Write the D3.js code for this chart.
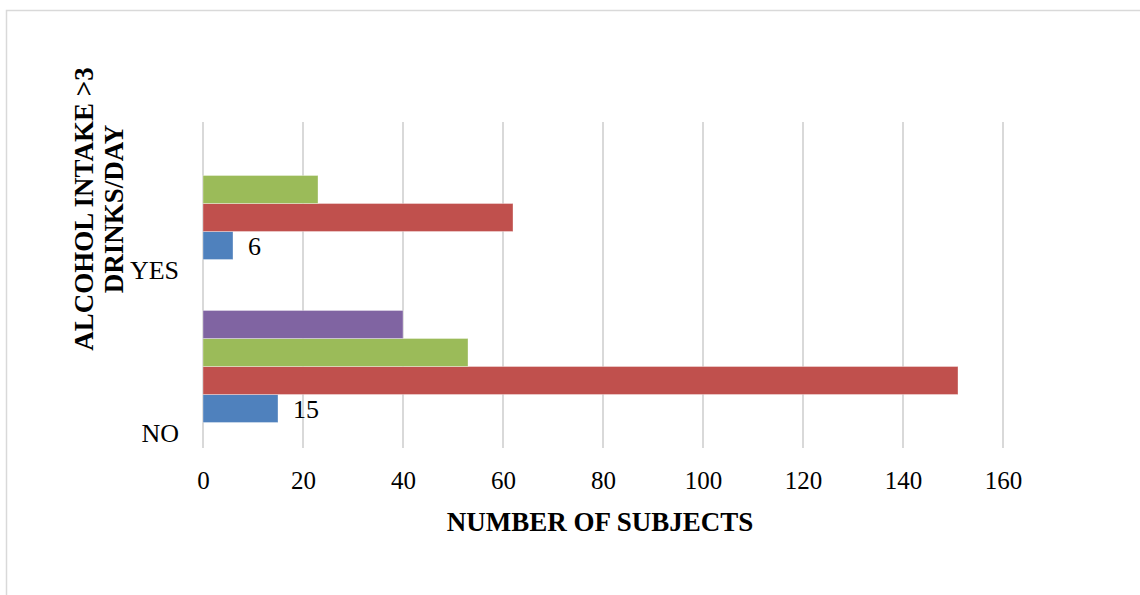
<!DOCTYPE html>
<html>
<head>
<meta charset="utf-8">
<script src="https://cdn.jsdelivr.net/npm/d3@7"></script>
<style>
  html, body { margin: 0; padding: 0; background: #fff; }
  svg { display: block; font-family: "Liberation Serif", "Times New Roman", serif; }
</style>
</head>
<body>
<svg id="chart" width="1140" height="595"></svg>
<script>
// ---- data ----
const categories = ["YES", "NO"];
const seriesNames = ["Series 1", "Series 2", "Series 3", "Series 4"];
const seriesColors = ["#4f81bd", "#c0504d", "#9bbb59", "#8064a2"];
const series1 = [6, 15];
const series2 = [62, 151];
const series3 = [23, 53];
const series4 = [0, 40];
const seriesValues = [series1, series2, series3, series4];
const labelledSeries = [true, false, false, false];
const xTicks = [0, 20, 40, 60, 80, 100, 120, 140, 160];
const yTitleLines = ["ALCOHOL INTAKE >3", "DRINKS/DAY"];
const xTitle = "NUMBER OF SUBJECTS";

// ---- layout ----
const svg = d3.select("#chart");
const plot = { left: 203, right: 1003, top: 122, bottom: 448 };

svg.append("rect")
  .attr("x", 6.5).attr("y", 10.5)
  .attr("width", 1140).attr("height", 600)
  .attr("fill", "none").attr("stroke", "#d9d9d9").attr("stroke-width", 1.5);

const x = d3.scaleLinear().domain([0, 160]).range([plot.left, plot.right]);
const y0 = d3.scaleBand().domain(categories).range([plot.top, plot.bottom]).padding(0);
// top-to-bottom order within a band: last series on top
const y1 = d3.scaleBand().domain(seriesNames.slice().reverse())
  .range([0, y0.bandwidth()]).paddingInner(0).paddingOuter(0.91);

// gridlines
svg.append("g").selectAll("line").data(xTicks).join("line")
  .attr("x1", d => x(d)).attr("x2", d => x(d))
  .attr("y1", plot.top).attr("y2", plot.bottom)
  .attr("stroke", "#d9d9d9").attr("stroke-width", 2);

// bars
const rows = [];
categories.forEach((c, ci) => {
  seriesNames.forEach((s, si) => {
    rows.push({ cat: c, series: s, si, value: seriesValues[si][ci] });
  });
});

svg.append("g").selectAll("rect").data(rows.filter(d => d.value > 0)).join("rect")
  .attr("x", x(0))
  .attr("y", d => y0(d.cat) + y1(d.series))
  .attr("width", d => x(d.value) - x(0))
  .attr("height", y1.bandwidth())
  .attr("fill", d => seriesColors[d.si])
  .attr("stroke", "#ffffff").attr("stroke-opacity", 0.35).attr("stroke-width", 1);

// data labels
svg.append("g").selectAll("text").data(rows.filter(d => labelledSeries[d.si])).join("text")
  .attr("x", d => x(d.value) + 15)
  .attr("y", d => y0(d.cat) + y1(d.series) + y1.bandwidth() / 2)
  .attr("dy", "0.35em")
  .attr("font-size", 26).attr("fill", "#000")
  .text(d => d.value);

// x axis tick labels
const xAxis = d3.axisBottom(x).tickValues(xTicks).tickSize(0).tickPadding(0);
const gx = svg.append("g").attr("transform", `translate(0,${plot.bottom})`).call(xAxis);
gx.select(".domain").remove();
gx.selectAll("text")
  .attr("y", 41).attr("dy", 0)
  .attr("font-size", 25).attr("font-family", "Liberation Serif").attr("fill", "#000");

// category labels
const yAxis = d3.axisLeft(y0).tickSize(0).tickPadding(0);
const gy = svg.append("g").attr("transform", `translate(179,0)`).call(yAxis);
gy.select(".domain").remove();
gy.selectAll(".tick").attr("transform", d => `translate(0,${y0(d) + y0.bandwidth() - 6})`);
gy.selectAll("text")
  .attr("x", 0).attr("dy", 0)
  .attr("font-size", 26).attr("font-family", "Liberation Serif").attr("fill", "#000");

// axis titles
svg.append("text")
  .attr("x", 600).attr("y", 531)
  .attr("text-anchor", "middle")
  .attr("font-size", 27).attr("font-weight", "bold")
  .text(xTitle);

const yt = svg.append("text")
  .attr("transform", "translate(93,209) rotate(-90)")
  .attr("text-anchor", "middle")
  .attr("font-size", 27).attr("font-weight", "bold");
yTitleLines.forEach((t, i) => {
  yt.append("tspan").attr("x", 0).attr("y", i * 30).text(t);
});
</script>
</body>
</html>
